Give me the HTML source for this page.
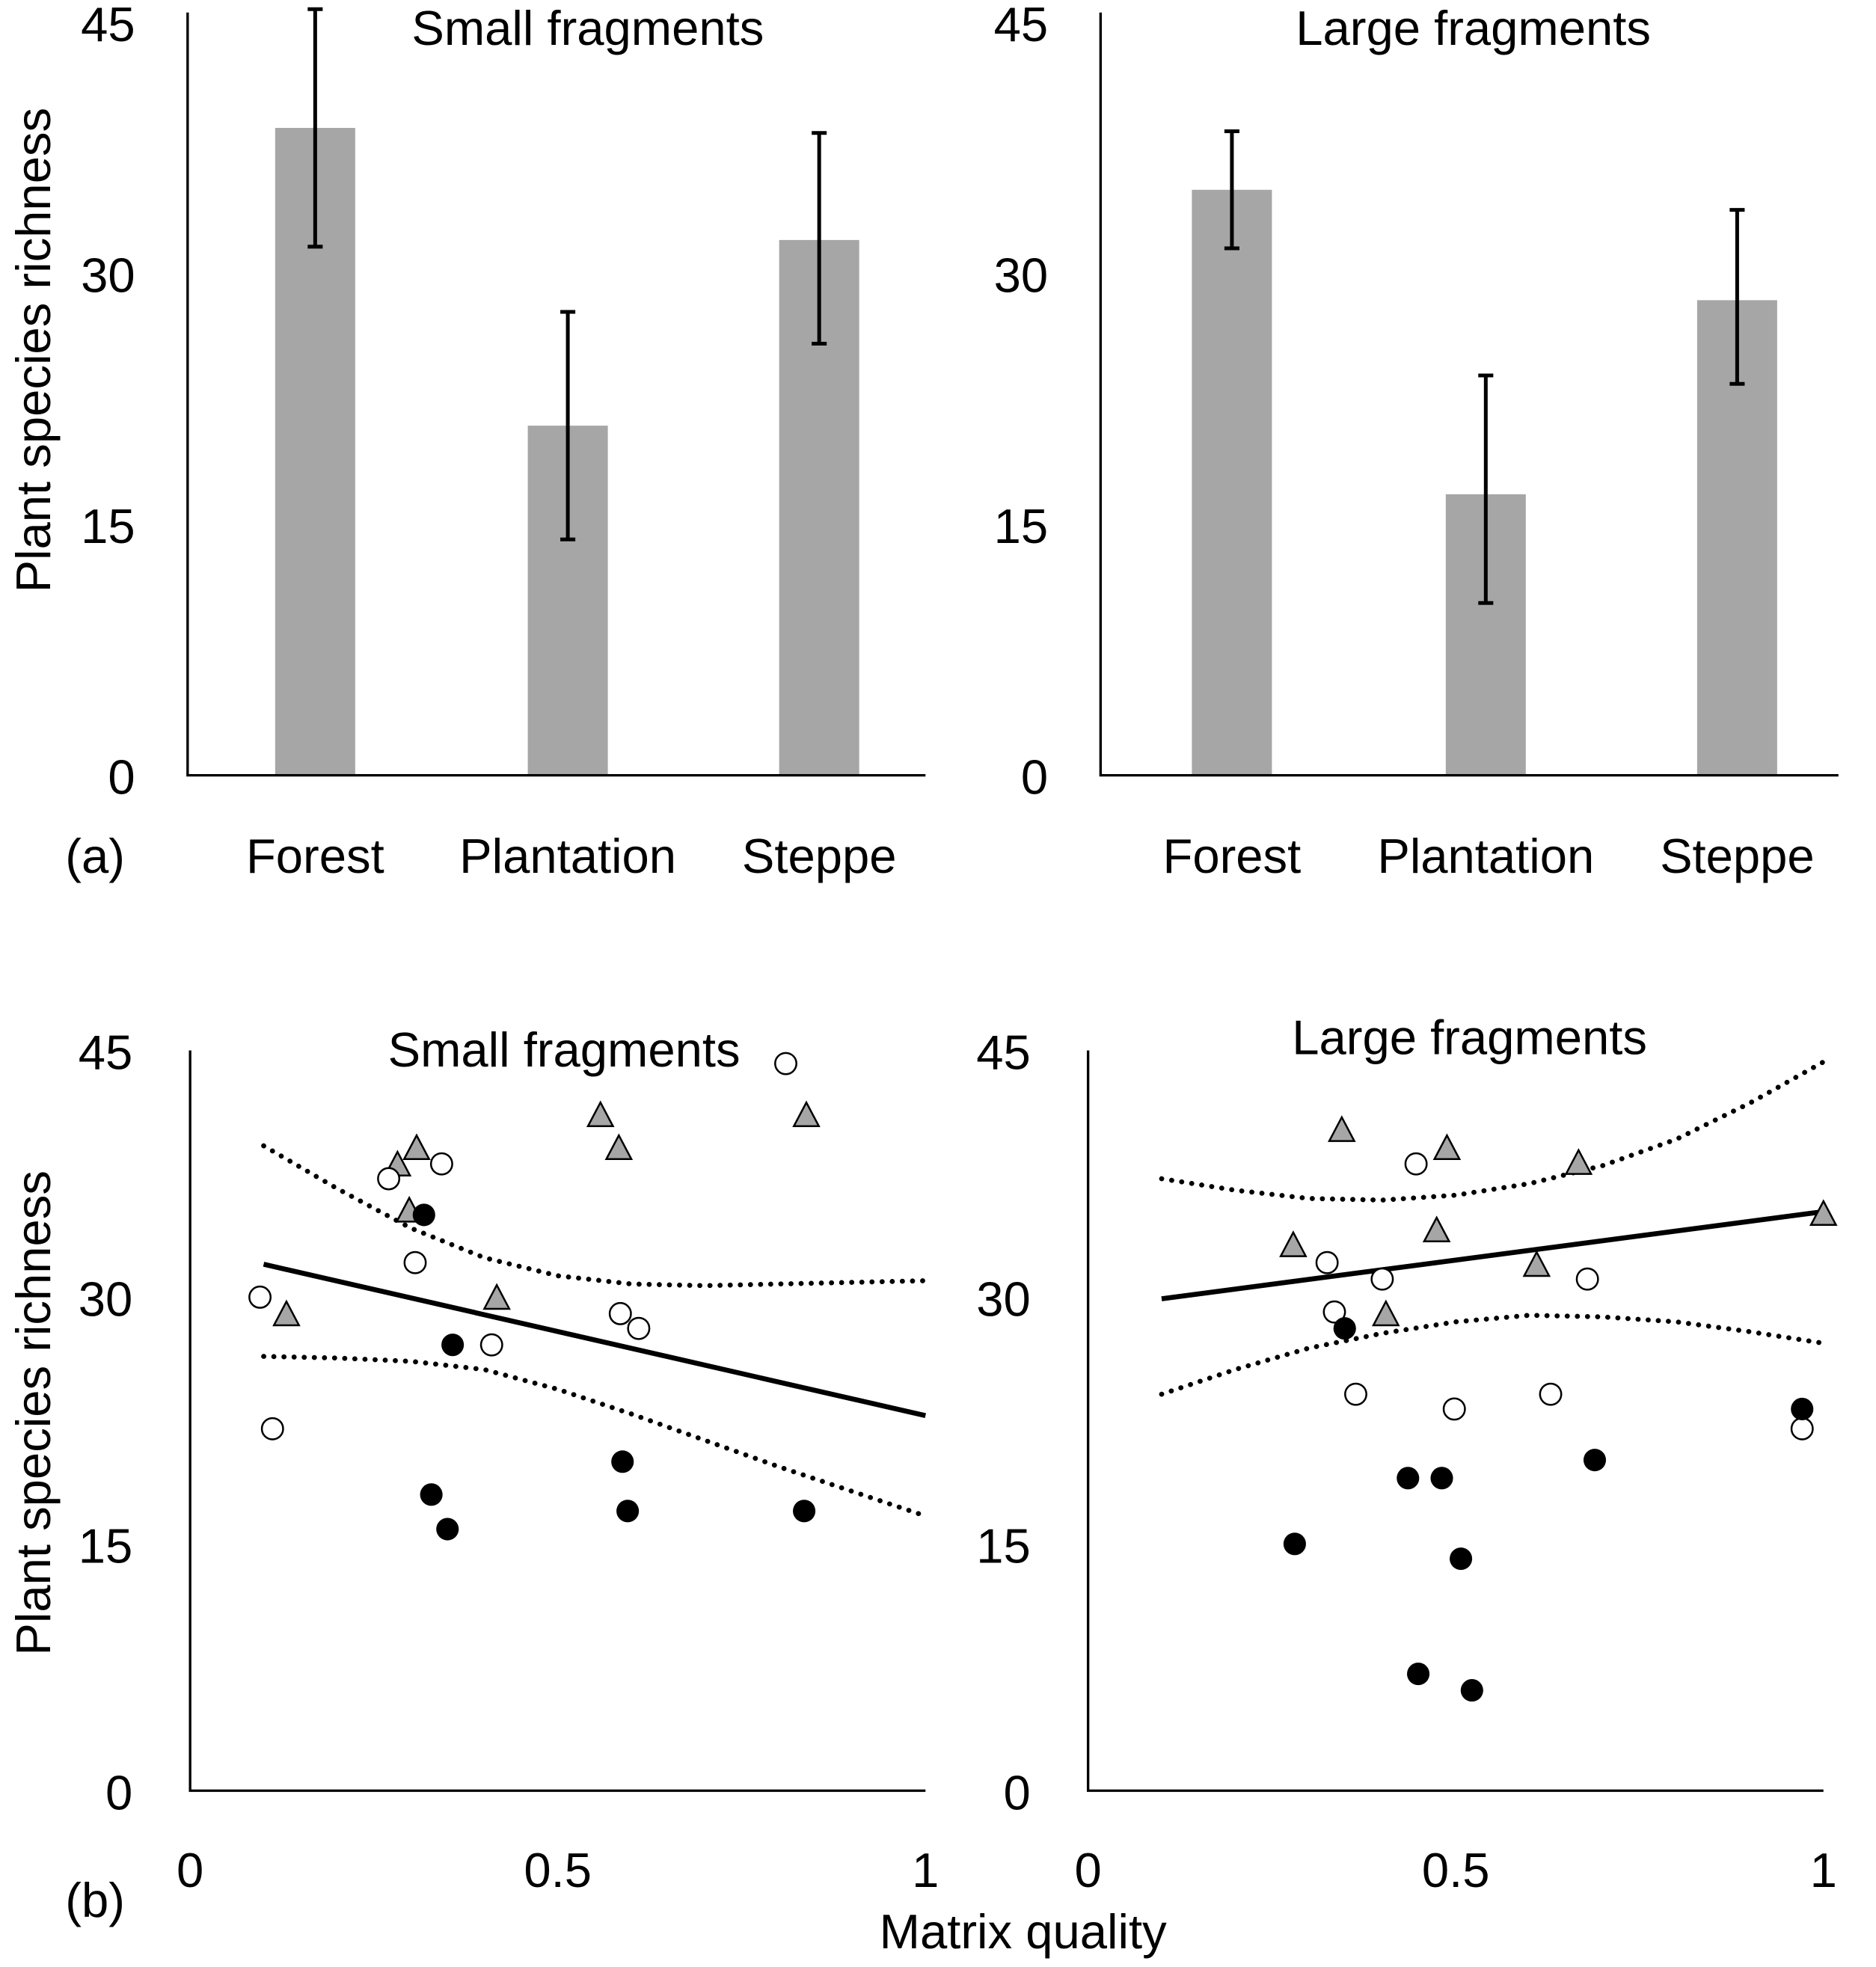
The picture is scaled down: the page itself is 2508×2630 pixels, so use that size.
<!DOCTYPE html>
<html><head><meta charset="utf-8"><style>
html,body{margin:0;padding:0;background:#fff;}
svg{display:block;font-family:"Liberation Sans",sans-serif;}
</style></head><body>
<svg id="fig" width="2508" height="2630" viewBox="0 0 1500 1573" xmlns="http://www.w3.org/2000/svg"></svg>
<script>
// ---- data ----
const categories = ["Forest","Plantation","Steppe"];
const smallBarMeans = [38.7, 20.9, 32.0];
const smallErrHi = [45.8, 27.7, 38.4];
const smallErrLo = [31.6, 14.1, 25.8];
const largeBarMeans = [35.0, 16.8, 28.4];
const largeErrHi = [38.5, 23.9, 33.8];
const largeErrLo = [31.5, 10.3, 23.4];
const yTicks = [0, 15, 30, 45];
const xTicks = [0, 0.5, 1];
const xTickLabels = ["0","0.5","1"];

const smallOpenX = [0.095,0.112,0.27,0.342,0.306,0.41,0.585,0.61,0.81];
const smallOpenY = [30.0,22.0,37.2,38.1,32.1,27.1,29.0,28.1,44.2];
const smallFilledX = [0.318,0.357,0.328,0.35,0.588,0.595,0.835];
const smallFilledY = [35.0,27.1,18.0,15.9,20.0,17.0,17.0];
const smallTriX = [0.131,0.282,0.308,0.298,0.417,0.558,0.583,0.838];
const smallTriY = [28.9,38.0,39.0,35.2,29.9,41.0,39.0,41.0];
const smallFitX = [0.1, 1];
const smallFitY = [32.0, 22.8];
const smallCIx = [0.1,0.2,0.3,0.4,0.5,0.6,0.7,0.8,0.9,1.0];
const smallUpper = [39.2,36.6,34.2,32.4,31.3,30.8,30.7,30.8,30.9,31.0];
const smallLower = [26.4,26.3,26.1,25.6,24.4,22.9,21.3,19.7,18.2,16.7];

const largeOpenX = [0.325,0.335,0.40,0.364,0.446,0.498,0.629,0.679,0.971];
const largeOpenY = [32.1,29.1,31.1,24.1,38.1,23.2,24.1,31.1,22.0];
const largeFilledX = [0.349,0.281,0.435,0.481,0.507,0.449,0.522,0.689,0.971];
const largeFilledY = [28.1,15.0,19.0,19.0,14.1,7.1,6.1,20.1,23.2];
const largeTriX = [0.279,0.345,0.488,0.474,0.405,0.61,0.667,1.0];
const largeTriY = [33.1,40.1,39.0,34.0,28.9,31.9,38.1,35.0];
const largeFitX = [0.1, 1];
const largeFitY = [29.9, 35.2];
const largeCIx = [0.1,0.2,0.3,0.4,0.5,0.6,0.7,0.8,0.9,1.0];
const largeUpper = [37.2,36.5,36.0,35.9,36.2,36.9,38.0,39.6,41.8,44.3];
const largeLower = [24.1,25.6,26.9,27.8,28.5,28.9,28.8,28.5,27.9,27.2];

// ---- drawing ----
const NS="http://www.w3.org/2000/svg";
const svg=document.getElementById('fig');
const FS=39;
function mk(tag,attrs,parent){const e=document.createElementNS(NS,tag);for(const k in attrs)e.setAttribute(k,attrs[k]);(parent||svg).appendChild(e);return e;}
function txt(s,x,y,size,anchor,parent,rot){const t=mk('text',{x:x,y:y,'font-size':size,'text-anchor':anchor||'middle',fill:'#000'},parent);if(rot)t.setAttribute('transform',rot);t.textContent=s;return t;}

function barPanel(name,x0,x1,yBottom,yTop,centers,means,hi,lo,title,titleX){
  const g=mk('g',{});
  
  
  const ys=v=>yBottom-(v/45)*(yBottom-yTop);
  means.forEach((m,i)=>{
    const b=mk('rect',{x:centers[i]-32,y:ys(m),width:64,height:yBottom-ys(m),fill:'#a6a6a6'},g);
    
    
    const e=mk('path',{d:`M${centers[i]},${ys(hi[i])}V${ys(lo[i])}M${centers[i]-6},${ys(hi[i])}H${centers[i]+6}M${centers[i]-6},${ys(lo[i])}H${centers[i]+6}`,stroke:'#000','stroke-width':3,fill:'none'},g);
    
    
    const l=txt(categories[i],centers[i],698,FS,'middle',g);
    
    
  });
  const ax=mk('path',{d:`M${x0},${yTop-8}V${yBottom}H${x1}`,stroke:'#000','stroke-width':2,fill:'none'},g);
  
  
  yTicks.forEach(v=>{const t=txt(String(v),x0-42,ys(v)+15,FS,'end',g);
    
    });
  const tt=txt(title,titleX,36,FS,'middle',g);
  
  
}
barPanel('bar-panel-small',150,740,620,18,[252,454,655],smallBarMeans,smallErrHi,smallErrLo,'Small fragments',470);
barPanel('bar-panel-large',880,1470,620,18,[985,1188,1389],largeBarMeans,largeErrHi,largeErrLo,'Large fragments',1178);

function scatPanel(name,x0,yBottom,yTop,oX,oY,fX,fY,tX,tY,fitX,fitY,ciX,up,lo,title,titleX,titleY){
  const g=mk('g',{});
  
  
  const W=588;
  const xs=v=>x0+v*W, ys=v=>yBottom-(v/45)*(yBottom-yTop);
  const ax=mk('path',{d:`M${x0},${yTop}V${yBottom}H${x0+W}`,stroke:'#000','stroke-width':2,fill:'none'},g);
  
  
  yTicks.forEach(v=>{const t=txt(String(v),x0-46,ys(v)+15,FS,'end',g);
    
    });
  xTicks.forEach((v,i)=>{const t=txt(xTickLabels[i],xs(v),1509,FS,'middle',g);
    
    });
  const pts=(xa,ya)=>xa.map((x,i)=>xs(x)+','+ys(ya[i])).join(' ');
  const u=mk('polyline',{points:pts(ciX,up),fill:'none',stroke:'#000','stroke-width':4,'stroke-dasharray':'0.1 8','stroke-linecap':'round'},g);
  
  
  const l=mk('polyline',{points:pts(ciX,lo),fill:'none',stroke:'#000','stroke-width':4,'stroke-dasharray':'0.1 8','stroke-linecap':'round'},g);
  
  
  const f=mk('polyline',{points:pts(fitX,fitY),fill:'none',stroke:'#000','stroke-width':4},g);
  
  
  tX.forEach((x,i)=>{const cx=xs(x),cy=ys(tY[i]);
    const p=mk('polygon',{points:`${cx},${cy-11} ${cx+10},${cy+8} ${cx-10},${cy+8}`,fill:'#a6a6a6',stroke:'#000','stroke-width':1.5},g);
    
    });
  oX.forEach((x,i)=>{const c=mk('circle',{cx:xs(x),cy:ys(oY[i]),r:8.5,fill:'#fff',stroke:'#000','stroke-width':1.5},g);
    
    });
  fX.forEach((x,i)=>{const c=mk('circle',{cx:xs(x),cy:ys(fY[i]),r:9,fill:'#000'},g);
    
    });
  const tt=txt(title,titleX,titleY,FS,'middle',g);
  
  
}
scatPanel('scatter-panel-small',152,1432,840,smallOpenX,smallOpenY,smallFilledX,smallFilledY,smallTriX,smallTriY,smallFitX,smallFitY,smallCIx,smallUpper,smallLower,'Small fragments',451,853);
scatPanel('scatter-panel-large',870,1432,840,largeOpenX,largeOpenY,largeFilledX,largeFilledY,largeTriX,largeTriY,largeFitX,largeFitY,largeCIx,largeUpper,largeLower,'Large fragments',1175,843);

let t;
t=txt('Plant species richness',40,280,FS,'middle',null,'rotate(-90 40 280)');

t=txt('Plant species richness',40,1130,FS,'middle',null,'rotate(-90 40 1130)');

t=txt('(a)',76,698,FS,'middle');

t=txt('(b)',76,1533,FS,'middle');

t=txt('Matrix quality',818,1558,FS,'middle');

</script>
</body></html>
